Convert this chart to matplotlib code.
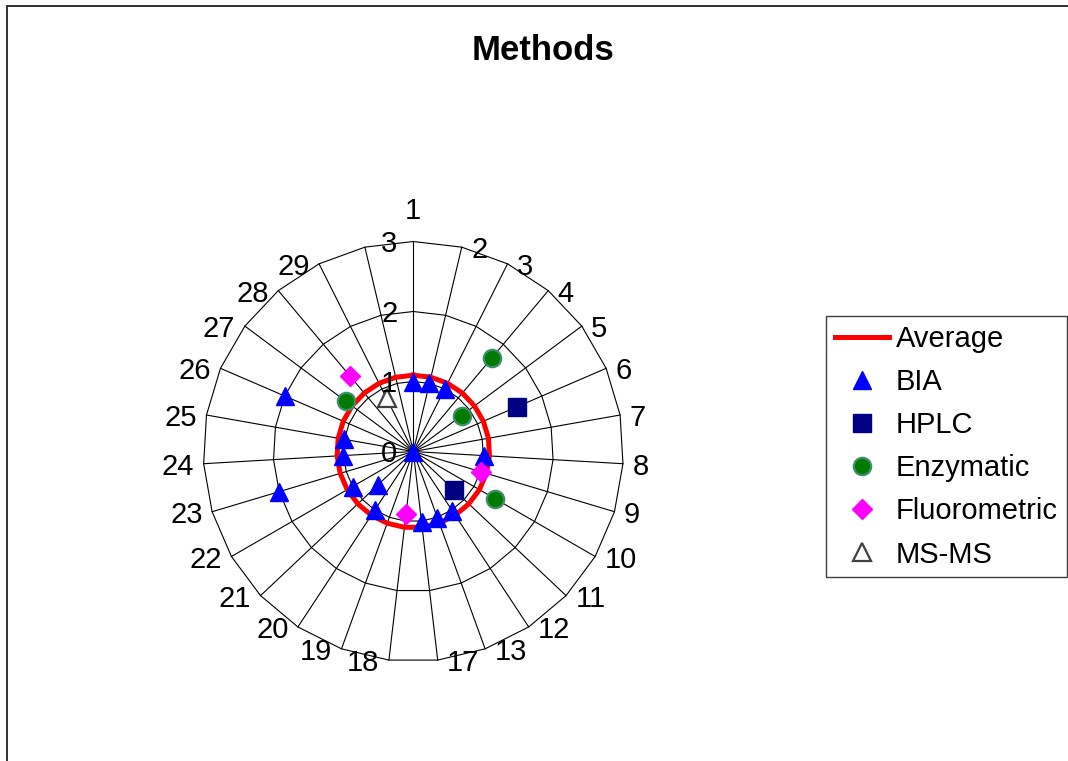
import numpy as np
import matplotlib
matplotlib.use("Agg")
import matplotlib.pyplot as plt
from matplotlib.patches import Rectangle

plt.rcParams['font.family'] = ['Liberation Sans', 'DejaVu Sans']

# ---- data -------------------------------------------------------------
categories = ["1", "2", "3", "4", "5", "6", "7", "8", "9", "10", "11", "12", "13",
              "17", "18", "19", "20", "21", "22", "23", "24", "25", "26", "27", "28",
              "29", ""]
nan = np.nan
average = [1.09] * 27
bia = [1.0, 1.0, 1.0, nan, nan, nan, nan, 1.01, nan, nan, nan, 1.01, 1.01,
       1.01, nan, 0.0, 1.0, 0.70, 1.0, 2.0, 1.0, 1.0, 2.0, nan, nan, nan, nan]
hplc = [nan, nan, nan, nan, nan, 1.61, nan, nan, nan, nan, 0.80, nan, nan,
        nan, nan, nan, nan, nan, nan, nan, nan, nan, nan, nan, nan, nan, nan]
enzymatic = [nan, nan, nan, 1.75, 0.86, nan, nan, nan, nan, 1.35, nan, nan, nan,
             nan, nan, nan, nan, nan, nan, nan, nan, nan, nan, 1.20, nan, nan, nan]
fluorometric = [nan, nan, nan, nan, nan, nan, nan, nan, 1.01, nan, nan, nan, nan,
                nan, 0.90, nan, nan, nan, nan, nan, nan, nan, nan, nan, 1.40, nan, nan]
msms = [nan, nan, nan, nan, nan, nan, nan, nan, nan, nan, nan, nan, nan,
        nan, nan, nan, nan, nan, nan, nan, nan, nan, nan, nan, nan, 0.85, nan]
radial_ticks = [0, 1, 2, 3]

# ---- figure -----------------------------------------------------------
W, H = 1068, 761
fig = plt.figure(figsize=(W / 100, H / 100), dpi=100)
fig.patch.set_facecolor('white')

cx, cy, R = 413.3, 451.5, 210.0
ax = fig.add_axes([(cx - R) / W, (H - cy - R) / H, 2 * R / W, 2 * R / H],
                  projection='polar')
ax.set_theta_offset(np.pi / 2)
ax.set_theta_direction(-1)
ax.set_ylim(0, radial_ticks[-1])
ax.grid(False)
ax.set_xticks([])
ax.set_yticks([])
ax.spines['polar'].set_visible(False)
ax.patch.set_alpha(0)

N = len(categories)
theta = np.arange(N) * 2 * np.pi / N
theta_closed = np.append(theta, theta[0])

# polygon grid
for r in radial_ticks[1:]:
    ax.plot(theta_closed, [r] * (N + 1), color='black', lw=0.8, zorder=1,
            clip_on=False)
for t in theta:
    ax.plot([t, t], [0, radial_ticks[-1]], color='black', lw=0.8, zorder=1,
            clip_on=False)

FS = 21
# radial labels
for r in radial_ticks:
    ax.annotate(str(r), xy=(0, r), xytext=(-11.5, 0), textcoords='offset points',
                ha='right', va='center_baseline', fontsize=FS, zorder=5)

# category labels
for t, lab in zip(theta, categories):
    s = np.sin(t)
    if abs(s) < 1e-6:
        ax.annotate(lab, xy=(t, radial_ticks[-1]), xytext=(0, 16),
                    textcoords='offset points', ha='center', va='baseline',
                    fontsize=FS, annotation_clip=False)
    elif s > 0:
        ax.annotate(lab, xy=(t, radial_ticks[-1]), xytext=(6.8, 0),
                    textcoords='offset points', ha='left', va='center_baseline',
                    fontsize=FS, annotation_clip=False)
    else:
        ax.annotate(lab, xy=(t, radial_ticks[-1]), xytext=(-6.8, 0),
                    textcoords='offset points', ha='right', va='center_baseline',
                    fontsize=FS, annotation_clip=False)

# series
h_avg, = ax.plot(theta_closed, np.append(average, average[0]), color='#FF0000',
                 lw=3.6, zorder=2, label='Average', clip_on=False)
styles = [
    ('BIA', bia, dict(marker='^', ms=13.5, mfc='#0000FF', mec='#0000FF', mew=1)),
    ('HPLC', hplc, dict(marker='s', ms=13, mfc='#000080', mec='#000080', mew=1)),
    ('Enzymatic', enzymatic, dict(marker='o', ms=12.5, mfc='#007A00', mec='#3D8F6B', mew=1.6)),
    ('Fluorometric', fluorometric, dict(marker='D', ms=10.5, mfc='#FF00FF', mec='#FF00FF', mew=1)),
    ('MS-MS', msms, dict(marker='^', ms=13, mfc='white', mec='#404040', mew=1.6)),
]
handles = [h_avg]
for name, vals, st in styles:
    h, = ax.plot(theta, vals, linestyle='none', zorder=3, label=name,
                 clip_on=False, **st)
    handles.append(h)

leg = fig.legend(handles, [h.get_label() for h in handles], loc='upper left',
                 bbox_to_anchor=(826 / W, 1 - 316 / H), borderaxespad=0,
                 frameon=True, fancybox=False, edgecolor='#404040', framealpha=1,
                 fontsize=FS, handlelength=1.85, handletextpad=0.25,
                 labelspacing=0.52, borderpad=0.3, numpoints=1)
leg.get_frame().set_linewidth(1.0)

# title
fig.text(543.5 / W, 1 - 60 / H, 'Methods', ha='center', va='baseline',
         fontsize=25, fontweight='bold')

# outer chart-area border
fig.add_artist(Rectangle((6.8 / W, -0.1), 1.2, 1 - 5.8 / H + 0.1,
                         transform=fig.transFigure, fill=False,
                         ec='#222222', lw=1.3))

fig.savefig('out.png', dpi=100)
